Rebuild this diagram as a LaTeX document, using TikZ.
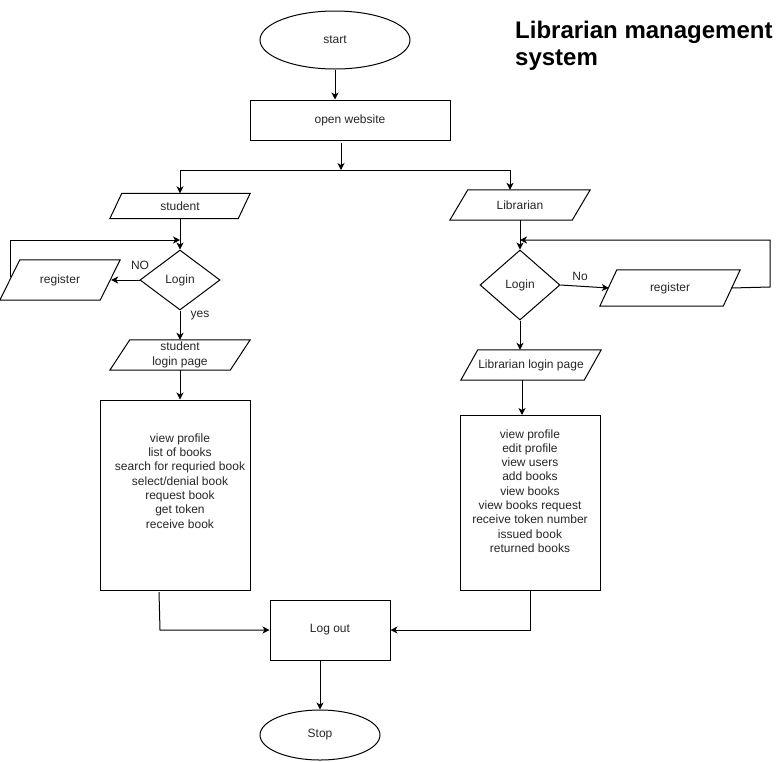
\documentclass[tikz,border=0pt]{standalone}
\usepackage{fontspec}
\setmainfont{Liberation Sans}
\usetikzlibrary{shapes.geometric,arrows.meta,calc}
\newcommand\mkpara[6]{%
  \node[paratext,minimum width=#3pt,minimum height=#4pt] (#1) at (#2) {#6};
  \draw[shapeline] ($(#1.north west)+(#5,0)$) -- (#1.north east) -- ($(#1.south east)-(#5,0)$) -- (#1.south west) -- cycle;}
\begin{document}
\begin{tikzpicture}[x=1pt,y=-1pt,
  every node/.style={font=\fontsize{12}{14.3}\selectfont,text=black!85},
  shapeline/.style={draw=black,line width=1pt},
  paratext/.style={inner sep=0pt,align=center},
  box/.style={draw=black,line width=1pt,inner sep=0pt},
  term/.style={ellipse,draw=black,line width=1pt,inner sep=0pt},
  dec/.style={diamond,draw=black,line width=1pt,inner sep=0pt},
  plain/.style={inner sep=0pt,align=center},
  arr/.style={line width=1pt,-{Stealth[length=7pt,width=7pt,inset=2pt]}},
  ln/.style={line width=1pt}]
\useasboundingbox (0,0) rectangle (782,761);
% title
\node[plain,align=left,anchor=north west,font=\fontsize{24}{26.7}\selectfont\bfseries,text=black] (title) at (515,21) {Librarian management\\system};
% top
\node[term,minimum width=150pt,minimum height=58pt] (start) at (335,40) {start};
\node[box,minimum width=200pt,minimum height=40pt] (open) at (350,120) {open website};
\coordinate (split) at (341,170);
\coordinate (splitL) at (180,170);
\coordinate (splitR) at (510,170);
\draw[arr] (start) -- (open.north -| start);
\draw[arr] ([yshift=-2pt]open.south -| split) -- (split);
\draw[ln] (splitL) -- (splitR);
% left branch
\mkpara{stud}{180,206}{140}{25}{12}{student}
\node[dec,minimum width=80pt,minimum height=60pt,aspect=1.333] (loginL) at (180,280) {Login};
\mkpara{regL}{60,280}{120}{40}{20}{register}
\mkpara{slp}{180,355}{140}{30}{20}{student\\login page}
\node[box,minimum width=150pt,minimum height=190pt] (sbox) at (175,495) {};
\node[plain] (stext) at (180,481) {view profile\\list of books\\search for requried book\\select/denial book\\request book\\get token\\receive book};
\draw[arr] (splitL) -- (stud.north);
\draw[arr] (stud.south) -- (loginL.north);
\coordinate (loopL) at (180,240);
\draw[arr] (10,277) -- (10,240) -- (loopL);
\draw[arr] (loginL.west) -- ([xshift=-9pt]regL.east);
\node[plain] (nolab) at (140,265) {NO};
\draw[arr] (loginL.south) -- (slp.north);
\node[plain] (yeslab) at (200,316) {yes};
\draw[arr] (slp.south) -- (sbox.north -| slp.south);
% right branch
\mkpara{lib}{520,205}{140}{30}{18}{Librarian}
\node[dec,minimum width=80pt,minimum height=70pt,aspect=1.143] (loginR) at (520,285) {Login};
\mkpara{regR}{670,288}{140}{36}{17}{register}
\mkpara{llp}{531,365}{140}{30}{17}{Librarian login page}
\node[box,minimum width=140pt,minimum height=175pt] (lbox) at (530,502.5) {};
\node[plain] (ltext) at (530,491) {view profile\\edit profile\\view users\\add books\\view books\\view books request\\receive token number\\issued book\\returned books};
\draw[arr] (splitR) -- (lib.north -| splitR);
\draw[arr] (lib.south) -- (loginR.north);
\coordinate (loopR) at (520,240);
\draw[arr] ([xshift=-9pt]regR.east) -- (770,287) -- (770,240) -- (loopR);
\draw[arr] (loginR.east) -- ([xshift=9pt]regR.west);
\node[plain] (nolabR) at (580,276) {No};
\draw[arr] (loginR.south) -- (llp.north -| loginR.south);
\draw[arr] (522,380) -- (522,415);
% bottom
\node[box,minimum width=120pt,minimum height=60pt] (logout) at (330,630) {Log out};
\node[term,minimum width=120pt,minimum height=50pt] (stop) at (320,735) {Stop};
\draw[arr] (159,592) -- (160,630) -- (logout.west);
\draw[arr] (lbox.south -| 530,0) -- (530,630) -- (logout.east);
\draw[arr] (logout.south -| stop) -- (stop.north);
\end{tikzpicture}
\end{document}
